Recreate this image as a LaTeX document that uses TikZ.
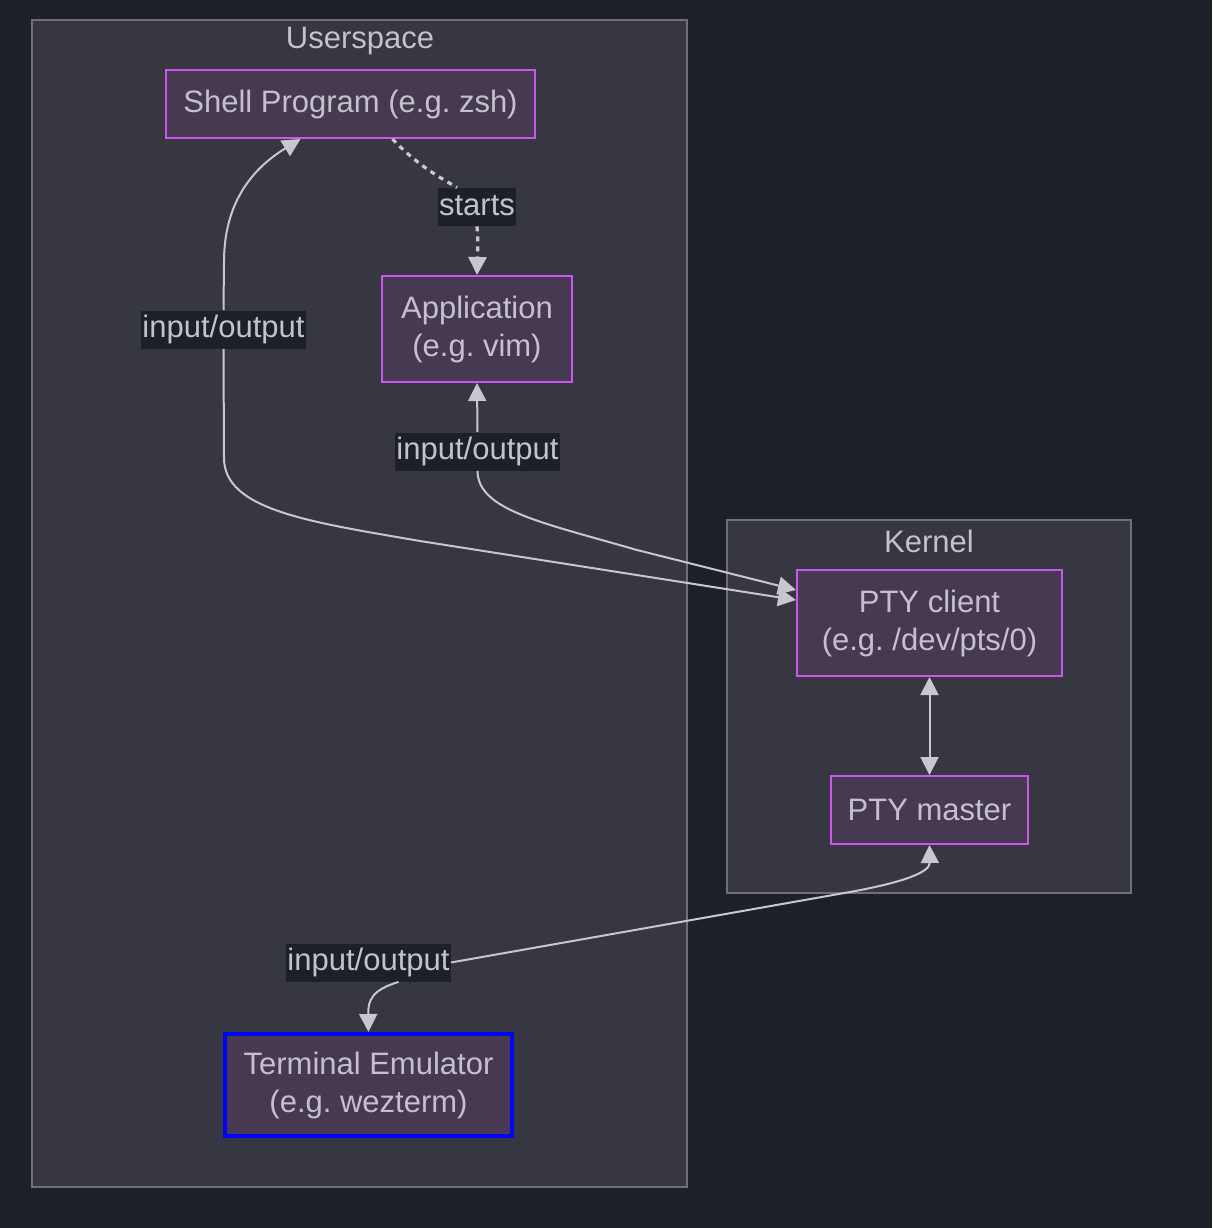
\documentclass[tikz,border=0pt]{standalone}
\usepackage{fontspec}
\setmainfont{Liberation Sans}
\usepackage{tikz}
\usetikzlibrary{arrows.meta, positioning, calc}
\frenchspacing
\definecolor{mybg}{RGB}{30,32,40}
\definecolor{myclust}{RGB}{54,55,64}
\definecolor{myclustline}{RGB}{112,112,112}
\definecolor{mynode}{RGB}{72,57,82}
\definecolor{mymagenta}{RGB}{204,85,238}
\definecolor{mytext}{RGB}{195,194,204}
\definecolor{myedge}{RGB}{200,200,204}
\definecolor{myblue}{RGB}{0,0,255}
\tikzset{
  cluster/.style={rectangle, draw=myclustline, fill=myclust, line width=1pt},
  clustertitle/.style={font=\fontsize{15.5}{18}\selectfont, text=mytext},
  box/.style={rectangle, draw=mymagenta, fill=mynode, line width=1pt,
    align=center, inner sep=0pt, font=\fontsize{15.5}{19}\selectfont, text=mytext},
  bluebox/.style={box, draw=myblue, line width=2pt},
  edgelabel/.style={rectangle, fill=mybg, inner xsep=0.5pt, inner ysep=2pt, text height=11.5pt,
    text depth=3.5pt, font=\fontsize{15.5}{18}\selectfont, text=mytext},
  io/.style={line width=1pt, color=myedge},
  tip/.style={-{Triangle[length=9pt, width=9pt]}},
  tips/.style={{Triangle[length=9pt, width=9pt]}-{Triangle[length=9pt, width=9pt]}},
  starts/.style={line width=1.6pt, color=myedge, dash pattern=on 2.5pt off 2.5pt}
}
\begin{document}
\begin{tikzpicture}[x=0.5pt, y=-0.5pt]
  \useasboundingbox[fill=mybg] (0,0) rectangle (1212,1228);

  % Userspace cluster
  \draw[cluster] (32,20) rectangle (687,1187);
  \node[clustertitle] (userspace) at (360,41) {Userspace};

  % Kernel cluster
  \draw[cluster] (727,520) rectangle (1131,893);
  \node[clustertitle] (kernel) at (929,541) {Kernel};

  % Nodes
  \node[box, minimum width=184.5pt, minimum height=34pt] (shell) at (350.5,104) {Shell Program (e.g. zsh)};
  \node[box, minimum width=95pt, minimum height=53pt] (app) at (477,329) {Application\\(e.g. vim)};
  \node[box, minimum width=132.5pt, minimum height=53pt] (ptyc) at (929.5,623) {PTY client\\(e.g. /dev/pts/0)};
  \node[box, minimum width=98.5pt, minimum height=34pt] (ptym) at (929.5,810) {PTY master};
  \node[bluebox, minimum width=143.5pt, minimum height=51pt] (term) at (368.5,1085) {Terminal Emulator\\(e.g. wezterm)};

  % Edge labels
  \node[edgelabel] (lbstarts) at (477,207) {starts};
  \node[edgelabel] (lbshell) at (223.5,329.5) {input/output};
  \node[edgelabel] (lbapp) at (477.5,451.5) {input/output};
  \node[edgelabel] (lbterm) at (368.5,962.5) {input/output};

  % shell starts application
  \draw[starts] ([xshift=21pt]shell.south) .. controls (420,168) and (445,180) .. ([xshift=-10pt]lbstarts.north);
  \draw[starts, tip] (lbstarts.south) .. controls (478,240) .. (app.north);

  % shell <-> pty client
  \draw[io, tip] (lbshell.north) -- (224,262) .. controls (224,205) and (250,170) .. ([xshift=-25pt]shell.south);
  \draw[io, tip] (lbshell.south) -- (224,458) .. controls (224,510) and (310,522) .. (420,541)
    -- ([yshift=11.5pt]ptyc.west);

  % application <-> pty client
  \draw[io, tip] (lbapp.north) -- (app.south);
  \draw[io, tip] (lbapp.south) .. controls (478,510) and (540,522) .. (637,550)
    -- ([yshift=16.5pt]ptyc.west);

  % pty client <-> pty master
  \draw[io, tips] (ptyc.south) -- (ptym.north);

  % terminal <-> pty master
  \draw[io, tip] (lbterm.east) -- (850,892) .. controls (905,882) and (930,872) .. (ptym.south);
  \draw[io, tip] ([xshift=15pt]lbterm.south) .. controls (372,990) and (368,1000) .. (term.north);
\end{tikzpicture}
\end{document}
